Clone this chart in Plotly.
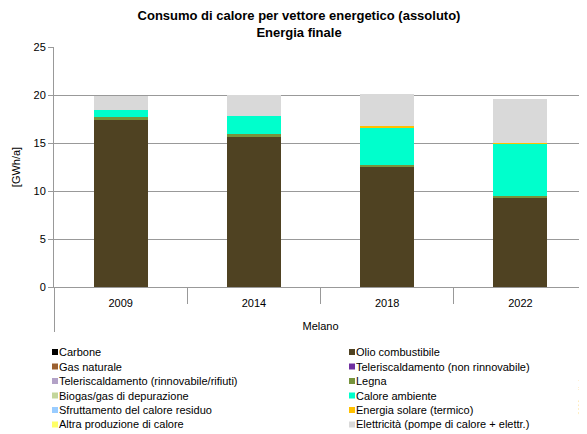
import plotly.graph_objects as go

# The page body has an 8px margin, so the figure is drawn 8px smaller and
# all pixel placements below are given in page coordinates minus OFF.
OFF = 8
W, H = 587 - OFF, 434 - OFF
ML, MR, MT, MB = 54 - OFF, 0, 47 - OFF, H - (287 - OFF)

title_line1 = "Consumo di calore per vettore energetico (assoluto)"
title_line2 = "Energia finale"
y_title = "[GWh/a]"
group_label = "Melano"
years = ["2009", "2014", "2018", "2022"]

series_names = [
    "Carbone", "Olio combustibile",
    "Gas naturale", "Teleriscaldamento (non rinnovabile)",
    "Teleriscaldamento (rinnovabile/rifiuti)", "Legna",
    "Biogas/gas di depurazione", "Calore ambiente",
    "Sfruttamento del calore residuo", "Energia solare (termico)",
    "Altra produzione di calore", "Elettricità (pompe di calore + elettr.)",
]
series_colors = [
    "#000000", "#4F4222",
    "#9B6030", "#7030A0",
    "#B3A2C7", "#77933C",
    "#C3D69B", "#00FFCC",
    "#99CCFF", "#FFC000",
    "#FFFF66", "#D9D9D9",
]

carbone = [0, 0, 0, 0]
olio = [17.4, 15.65, 12.55, 9.3]
gas = [0, 0, 0, 0]
tele_nr = [0, 0, 0, 0]
tele_r = [0, 0, 0, 0]
legna = [0.3, 0.25, 0.15, 0.2]
biogas = [0, 0, 0, 0]
calore_amb = [0.7, 1.95, 3.95, 5.45]
calore_res = [0, 0, 0, 0]
solare = [0, 0, 0.1, 0.05]
altra = [0, 0, 0, 0]
elettricita = [1.5, 2.1, 3.35, 4.55]

series_values = [carbone, olio, gas, tele_nr, tele_r, legna, biogas,
                 calore_amb, calore_res, solare, altra, elettricita]

# outer (group) label gets an empty first line so it sits lower, as in the reference
x_multi = [["<br>" + group_label] * len(years), years]

FONT = "Liberation Sans, Arial, sans-serif"
GRID = "#999999"

fig = go.Figure()
for name, color, vals in zip(series_names, series_colors, series_values):
    fig.add_trace(go.Bar(x=x_multi, y=vals, name=name, marker_color=color,
                         marker_line_width=0, showlegend=False))

plot_w = W - ML - MR
plot_h = H - MT - MB

def px_x(px):
    return (px - OFF - ML) / plot_w

def px_y(py):
    return (H - MB - (py - OFF)) / plot_h

# custom legend (two columns), page pixel positions
shapes = []
annotations = []
row_y = [352, 366.5, 381, 395.5, 410, 424.5]
col_sym_x = [52, 349]
col_txt_x = [57, 354]
for i, (name, color) in enumerate(zip(series_names, series_colors)):
    row, col = divmod(i, 2)
    cy = row_y[row]
    sx = col_sym_x[col]
    shapes.append(dict(type="rect", xref="paper", yref="paper",
                       x0=px_x(sx), x1=px_x(sx + 6), y0=px_y(cy + 3), y1=px_y(cy - 3),
                       fillcolor=color, line=dict(width=0)))
    annotations.append(dict(text=name, xref="paper", yref="paper",
                            x=px_x(col_txt_x[col]), y=px_y(cy), xanchor="left",
                            yanchor="middle", showarrow=False,
                            font=dict(size=11, color="#000000", family=FONT)))

annotations.append(dict(text="2000watt.ch", xref="paper", yref="paper",
                        x=px_x(581), y=px_y(396), textangle=-90, showarrow=False,
                        xanchor="center", yanchor="middle",
                        font=dict(size=7, color="#000000", family=FONT)))

fig.update_layout(
    width=W, height=H,
    margin=dict(l=ML, r=MR, t=MT, b=MB),
    paper_bgcolor="white", plot_bgcolor="white",
    barmode="stack", bargap=0.595,
    font=dict(family=FONT, size=11, color="#000000"),
    title=dict(text="<b>" + title_line1 + "</b><br><b>" + title_line2 + "</b>",
               x=(299 - OFF) / W, xanchor="center", xref="container",
               y=1 - 12 / H, yanchor="top", yref="container",
               font=dict(size=13, family=FONT, color="#000000")),
    shapes=shapes,
    annotations=annotations,
    showlegend=False,
)
fig.update_xaxes(type="multicategory", showgrid=False, showline=True,
                 linecolor=GRID, linewidth=1, ticks="outside", tickson="boundaries",
                 ticklen=16, tickcolor=GRID, tickwidth=1, showdividers=True,
                 dividercolor=GRID, dividerwidth=1, ticklabelstandoff=6,
                 tickfont=dict(size=11, family=FONT, color="#000000"))
fig.update_yaxes(range=[0, 25], dtick=5, showgrid=True, gridcolor=GRID, gridwidth=1,
                 showline=True, linecolor=GRID, linewidth=1, ticks="outside",
                 ticklen=5, tickcolor=GRID, zeroline=False,
                 tickfont=dict(size=11, family=FONT, color="#000000"),
                 title=dict(text=y_title, standoff=10,
                            font=dict(size=11, family=FONT, color="#000000")))

fig.write_html("out.html")
